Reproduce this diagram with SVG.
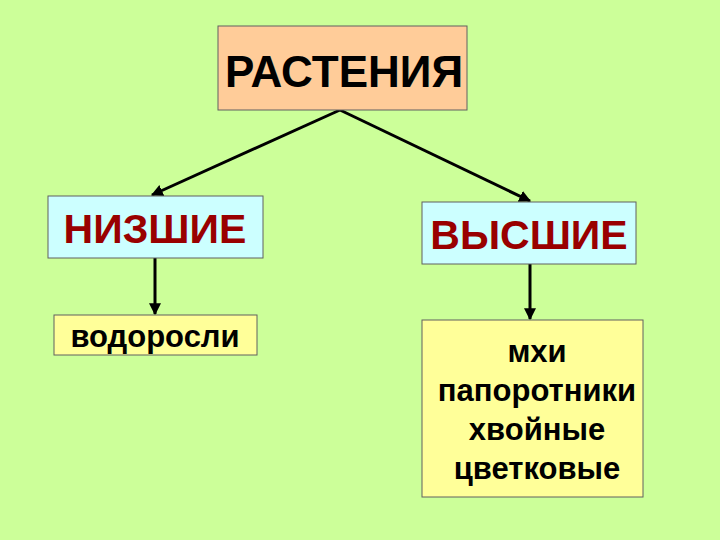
<svg xmlns="http://www.w3.org/2000/svg" width="720" height="540" viewBox="0 0 720 540">
<style>
.b{stroke:#606060;stroke-width:1}
.t{font-family:"Liberation Sans",Arial,sans-serif;font-weight:bold;text-anchor:middle}
.c{stroke:#000;stroke-width:3;fill:none;marker-end:url(#a)}
</style>
<defs><marker id="a" viewBox="0 0 10 10" refX="9" refY="5" markerWidth="4" markerHeight="4" orient="auto"><path d="M0,0L10,5L0,10z" fill="#000"/></marker></defs>
<rect width="720" height="540" fill="#ccff99"/>
<g id="connectors">
<line class="c" x1="340" y1="110" x2="152" y2="195"/>
<line class="c" x1="340" y1="110" x2="530" y2="201"/>
<line class="c" x1="155" y1="258" x2="155" y2="314"/>
<line class="c" x1="530" y1="264" x2="530" y2="319"/>
</g>
<g id="plants"><rect class="b" x="218" y="26" width="249" height="84" fill="#ffcc99"/><text class="t" x="344" y="87" font-size="44">РАСТЕНИЯ</text></g>
<g id="lower"><rect class="b" x="48" y="196" width="215" height="62" fill="#ccffff"/><text class="t" x="155" y="243" font-size="41" fill="#990000">НИЗШИЕ</text></g>
<g id="higher"><rect class="b" x="422" y="202" width="214" height="62" fill="#ccffff"/><text class="t" x="529" y="249" font-size="41" fill="#990000">ВЫСШИЕ</text></g>
<g id="algae"><rect class="b" x="54" y="315" width="203" height="40" fill="#ffff99"/><text class="t" x="155" y="347" font-size="31">водоросли</text></g>
<g id="list"><rect class="b" x="422" y="320" width="221" height="177" fill="#ffff99"/>
<text class="t" x="537" y="362" font-size="31">мхи</text>
<text class="t" x="537" y="401" font-size="31">папоротники</text>
<text class="t" x="537" y="440" font-size="31">хвойные</text>
<text class="t" x="537" y="479" font-size="31">цветковые</text></g>
</svg>
